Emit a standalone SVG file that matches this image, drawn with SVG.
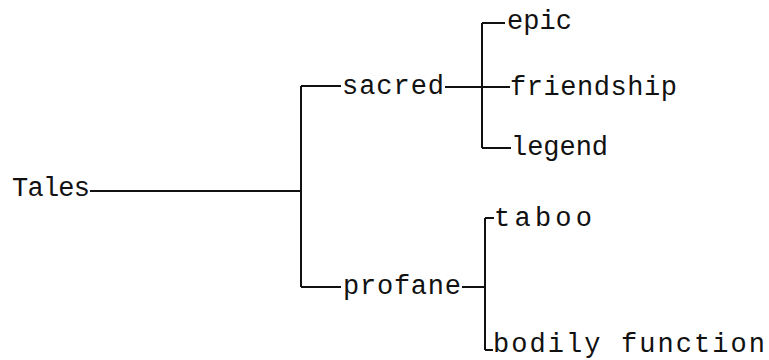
<svg xmlns="http://www.w3.org/2000/svg" width="769" height="360" viewBox="0 0 769 360">
<style>
.t{font-family:"Liberation Mono","Courier New",monospace;font-size:27px;fill:#111;}
.c{fill:none;stroke:#111;stroke-width:2;}
</style>
<rect width="769" height="360" fill="#fff"/>
<g id="connectors">
<path class="c" d="M90,191H301M301,86V287M301,86H341M301,287H341"/>
<path class="c" d="M445,87H482M482,23V148M482,23H505M482,148H511M482,87H510"/>
<path class="c" d="M462,287H485M485,218V350M485,218H494M485,350H493"/>
</g>
<g id="n-tales"><text class="t" x="12" y="196" textLength="78" lengthAdjust="spacing">Tales</text></g>
<g id="n-sacred"><text class="t" x="342" y="94" textLength="102" lengthAdjust="spacing">sacred</text></g>
<g id="n-profane"><text class="t" x="343" y="294" textLength="118" lengthAdjust="spacing">profane</text></g>
<g id="n-epic"><text class="t" x="507" y="29" textLength="65" lengthAdjust="spacing">epic</text></g>
<g id="n-friendship"><text class="t" x="510" y="95" textLength="167" lengthAdjust="spacing">friendship</text></g>
<g id="n-legend"><text class="t" x="511" y="155" textLength="97" lengthAdjust="spacing">legend</text></g>
<g id="n-taboo"><text class="t" x="494" y="226" textLength="98" lengthAdjust="spacing">taboo</text></g>
<g id="n-bodily"><text class="t" x="493" y="352" textLength="272" lengthAdjust="spacing">bodily function</text></g>
</svg>
